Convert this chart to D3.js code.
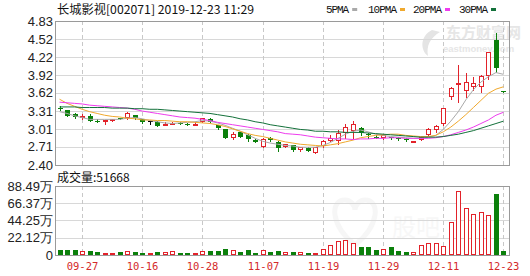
<!DOCTYPE html>
<html>
<head>
<meta charset="utf-8">
<script src="https://cdn.jsdelivr.net/npm/d3@7"></script>
<style>
  body { margin: 0; background: #fff; }
</style>
</head>
<body>
<div id="chart"></div>
<script>
// daily K-line data (price in yuan, volume in 万)
const dates = ["09-24","09-25","09-26","09-27","09-30","10-08","10-09","10-10","10-11","10-14",
  "10-15","10-16","10-17","10-18","10-21","10-22","10-23","10-24","10-25","10-28",
  "10-29","10-30","10-31","11-01","11-04","11-05","11-06","11-07","11-08","11-11",
  "11-12","11-13","11-14","11-15","11-18","11-19","11-20","11-21","11-22","11-25",
  "11-26","11-27","11-28","11-29","12-02","12-03","12-04","12-05","12-06","12-09",
  "12-10","12-11","12-12","12-13","12-16","12-17","12-18","12-19","12-20","12-23"];

const open = [3.36,3.32,3.26,3.22,3.23,3.15,3.12,3.16,3.19,3.19,
  3.24,3.17,3.14,3.13,3.09,3.10,3.11,3.10,3.09,3.13,
  3.18,3.07,3.00,2.86,2.95,2.91,2.83,2.71,2.86,2.79,
  2.71,2.73,2.65,2.69,2.61,2.72,2.81,2.81,2.94,2.97,
  3.02,2.92,2.88,2.85,2.87,2.85,2.84,2.79,2.83,2.90,
  2.99,3.09,3.55,3.77,3.65,3.71,3.71,3.91,4.51,3.65];
const high = [3.39,3.33,3.27,3.26,3.26,3.17,3.16,3.18,3.20,3.29,
  3.25,3.18,3.14,3.14,3.12,3.13,3.12,3.11,3.12,3.20,
  3.19,3.08,3.01,2.95,2.96,2.92,2.84,2.85,2.87,2.80,
  2.76,2.74,2.71,2.70,2.71,2.83,2.91,2.99,3.10,3.15,
  3.04,2.94,2.90,2.92,2.88,2.87,2.85,2.81,2.88,3.02,
  3.08,3.37,3.72,4.09,3.96,3.88,3.92,4.31,4.62,3.65];
const low = [3.33,3.22,3.20,3.18,3.14,3.12,3.10,3.15,3.17,3.18,
  3.18,3.11,3.09,3.05,3.07,3.09,3.09,3.07,3.07,3.12,
  3.12,3.01,2.85,2.84,2.87,2.81,2.78,2.70,2.81,2.64,
  2.70,2.64,2.64,2.63,2.60,2.71,2.80,2.76,2.85,2.85,
  2.90,2.86,2.85,2.84,2.84,2.82,2.80,2.78,2.82,2.89,
  2.96,3.08,3.51,3.47,3.55,3.67,3.63,3.85,3.97,3.64];
const close = [3.35,3.23,3.21,3.23,3.15,3.14,3.16,3.17,3.18,3.27,
  3.19,3.12,3.14,3.06,3.10,3.11,3.10,3.08,3.10,3.19,
  3.13,3.02,2.85,2.93,2.88,2.84,2.78,2.84,2.82,2.68,
  2.75,2.65,2.70,2.64,2.70,2.81,2.85,2.94,3.04,3.10,
  2.94,2.91,2.87,2.91,2.86,2.84,2.83,2.80,2.87,3.01,
  3.06,3.37,3.70,3.78,3.80,3.78,3.91,4.30,4.04,3.64];
const volume = [6.4,6.4,6.4,5.1,5.1,3.8,2.6,2.6,3.8,5.1,
  3.8,2.6,2.6,3.8,3.8,5.1,2.6,2.6,2.6,5.1,
  5.1,5.1,7.7,6.4,3.8,6.4,2.6,6.4,3.8,5.1,
  3.8,3.8,3.8,2.6,2.6,7.3,12.4,18.0,19.2,15.0,
  10.7,10.7,6.4,7.3,9.8,5.1,4.3,3.8,12.8,15.0,
  15.0,11.5,42.7,82.1,59.8,52.6,54.7,51.3,78.2,5.17];

// moving averages as drawn
const ma5 = [3.30,3.27,3.23,3.20,3.17,3.17,3.17,3.17,3.17,3.19,
  3.20,3.18,3.15,3.13,3.11,3.10,3.11,3.12,3.13,3.15,
  3.14,3.11,3.07,3.02,2.97,2.91,2.85,2.80,2.77,2.75,
  2.73,2.72,2.70,2.70,2.70,2.73,2.78,2.85,2.92,2.97,
  2.99,2.96,2.92,2.90,2.88,2.87,2.86,2.85,2.85,2.87,
  2.90,3.00,3.14,3.30,3.50,3.67,3.80,3.89,3.96,3.93];
const ma10 = [3.51,3.44,3.39,3.34,3.30,3.27,3.24,3.22,3.21,3.19,
  3.18,3.16,3.16,3.15,3.15,3.14,3.13,3.13,3.12,3.11,
  3.10,3.08,3.05,3.01,2.97,2.93,2.90,2.88,2.85,2.82,
  2.79,2.77,2.75,2.74,2.73,2.72,2.74,2.76,2.79,2.82,
  2.86,2.88,2.90,2.91,2.92,2.92,2.90,2.89,2.88,2.88,
  2.90,2.96,3.04,3.14,3.25,3.37,3.49,3.61,3.68,3.72];
const ma20 = [3.46,3.45,3.44,3.43,3.41,3.40,3.39,3.38,3.37,3.36,
  3.34,3.31,3.29,3.27,3.25,3.23,3.21,3.20,3.19,3.17,
  3.15,3.12,3.10,3.08,3.06,3.04,3.02,3.00,2.98,2.96,
  2.93,2.92,2.91,2.89,2.87,2.86,2.85,2.84,2.84,2.83,
  2.84,2.84,2.85,2.85,2.86,2.86,2.85,2.85,2.85,2.85,
  2.86,2.88,2.91,2.95,2.99,3.04,3.10,3.16,3.24,3.29];
const ma30 = [3.38,3.38,3.38,3.37,3.37,3.37,3.37,3.36,3.36,3.36,
  3.35,3.35,3.34,3.34,3.33,3.32,3.31,3.30,3.29,3.28,
  3.27,3.25,3.23,3.21,3.18,3.16,3.13,3.11,3.08,3.06,
  3.04,3.02,3.00,2.99,2.97,2.97,2.96,2.96,2.95,2.95,
  2.95,2.94,2.93,2.92,2.91,2.90,2.89,2.88,2.87,2.87,
  2.87,2.88,2.90,2.92,2.95,2.98,3.02,3.06,3.10,3.14];

const priceTicks = [2.40, 2.71, 3.01, 3.31, 3.62, 3.92, 4.22, 4.52, 4.83];
const volTicks = [0, 22.12, 44.25, 66.37, 88.49];
const dateTicks = ["09-27","10-16","10-28","11-07","11-19","11-29","12-11","12-23"];
const maNames = ["5PMA", "10PMA", "20PMA", "30PMA"];
const maColors = ["#a9a9a9", "#f0a92e", "#ee3cee", "#13713a"];

const RED = "#e2222a", GREEN = "#0b800b";
const width = 530, height = 276;
const left = 55, right = 509;
const pTop = 21, pBottom = 165;
const vTop = 186, vBottom = 255;

const svg = d3.select("#chart")
  .append("svg")
    .attr("width", width)
    .attr("height", height)
    .style("display", "block");

const x = d3.scaleBand()
    .domain(dates)
    .range([57, 506])
    .paddingInner(0.33);
const cx = d => Math.round(x(d) + x.bandwidth() / 2) + 0.5;

const y = d3.scaleLinear().domain([2.40, 4.83]).range([pBottom, pTop]);
const yv = d3.scaleLinear().domain([0, 88.49]).range([vBottom, vTop]);

// watermarks
const wm = svg.append("g").attr("fill", "#e6e6e6").attr("font-weight", "bold");
wm.append("text").attr("x", 446).attr("y", 38)
  .attr("font-family", "Noto Sans CJK SC").attr("font-size", 15).text("东方财富网");
wm.append("text").attr("x", 443).attr("y", 52)
  .attr("font-family", "Liberation Sans").attr("font-size", 9.5).text("eastmoney.com");
wm.append("path")
  .attr("d", "M432,30 C420,36 420,50 428,56 C426,46 430,38 440,32 Z")
  .attr("fill", "#e4e4e4");
svg.append("path")
  .attr("d", "M355,245 C330,225 330,200 345,200 C352,200 355,207 355,210 C355,207 358,200 365,200 C380,200 380,225 355,245 Z")
  .attr("fill", "none").attr("stroke", "#f6f6f6").attr("stroke-width", 5);
svg.append("text").attr("x", 392).attr("y", 236)
  .attr("font-family", "Noto Sans CJK SC").attr("font-size", 24)
  .attr("fill", "#f7f7f7").text("股吧");

// horizontal grid lines
svg.append("g")
  .selectAll("line")
  .data(priceTicks)
  .join("line")
    .attr("x1", left).attr("x2", right)
    .attr("y1", d => Math.round(y(d)) + 0.5)
    .attr("y2", d => Math.round(y(d)) + 0.5)
    .attr("stroke", "#d8d8d8");

svg.append("g")
  .selectAll("line")
  .data(volTicks)
  .join("line")
    .attr("x1", left).attr("x2", right)
    .attr("y1", d => Math.round(yv(d)) + 0.5)
    .attr("y2", d => Math.round(yv(d)) + 0.5)
    .attr("stroke", "#d8d8d8");

// vertical dashed grid lines at labelled dates
[[pTop, pBottom], [vTop, vBottom]].forEach(([t, b]) => {
  svg.append("g")
    .selectAll("line")
    .data(dateTicks)
    .join("line")
      .attr("x1", cx).attr("x2", cx)
      .attr("y1", t).attr("y2", b)
      .attr("stroke", "#c8c8c8")
      .attr("stroke-dasharray", "4,3");
});

// frames
[[pTop, pBottom], [vTop, vBottom]].forEach(([t, b]) => {
  svg.append("rect")
    .attr("x", left + 0.5).attr("y", t + 0.5)
    .attr("width", right - left).attr("height", b - t)
    .attr("fill", "none")
    .attr("stroke", "#9a9a9a");
});

const bars = dates.map((d, i) => ({date: d, o: open[i], h: high[i], l: low[i], c: close[i], v: volume[i]}));
const candleColor = d => d.c > d.o ? RED : d.c < d.o ? GREEN : "#000";

// candles
const cg = svg.append("g");
cg.selectAll("line")
  .data(bars)
  .join("line")
    .attr("x1", d => cx(d.date)).attr("x2", d => cx(d.date))
    .attr("y1", d => Math.round(y(d.h)))
    .attr("y2", d => Math.round(y(d.l)) + 1)
    .attr("stroke", candleColor);

cg.selectAll("rect")
  .data(bars)
  .join("rect")
    .each(function(d) {
      const top = Math.round(y(Math.max(d.o, d.c)));
      const bot = Math.max(top + 1, Math.round(y(Math.min(d.o, d.c))));
      const xl = cx(d.date) - 2.5;
      const r = d3.select(this);
      if (d.c > d.o) {
        r.attr("x", xl + 0.5).attr("y", top + 0.5)
         .attr("width", 4).attr("height", Math.max(bot - top - 1, 1))
         .attr("fill", "#fff").attr("stroke", RED);
      } else {
        r.attr("x", xl).attr("y", top)
         .attr("width", 5).attr("height", bot - top)
         .attr("fill", candleColor(d));
      }
    });

// moving average lines
[ma5, ma10, ma20, ma30].forEach((ma, k) => {
  const line = d3.line()
    .x((v, i) => x(dates[i]) + x.bandwidth() / 2)
    .y(v => y(v));
  svg.append("path")
    .datum(ma)
    .attr("d", line)
    .attr("fill", "none")
    .attr("stroke", maColors[k])
    .attr("stroke-width", 1);
});

// volume bars
svg.append("g")
  .selectAll("rect")
  .data(bars)
  .join("rect")
    .each(function(d) {
      const top = Math.round(yv(d.v));
      const xl = cx(d.date) - 2.5;
      const r = d3.select(this);
      if (d.c >= d.o) {
        r.attr("x", xl + 0.5).attr("y", top + 0.5)
         .attr("width", 4).attr("height", Math.max(vBottom - top - 1, 1))
         .attr("fill", "#fff").attr("stroke", RED);
      } else {
        r.attr("x", xl).attr("y", top)
         .attr("width", 5).attr("height", vBottom - top)
         .attr("fill", GREEN);
      }
    });

// axis labels
svg.append("g")
    .attr("font-family", "Liberation Sans, Arial, sans-serif")
    .attr("font-size", 13)
    .attr("fill", "#222")
  .selectAll("text")
  .data(priceTicks)
  .join("text")
    .attr("x", 53)
    .attr("y", d => y(d))
    .attr("dy", "0.36em")
    .attr("text-anchor", "end")
    .text(d => d3.format(".2f")(d));

svg.append("g")
    .attr("font-family", "Liberation Sans, Arial, sans-serif")
    .attr("font-size", 13)
    .attr("fill", "#222")
  .selectAll("text")
  .data(volTicks)
  .join("text")
    .attr("x", 53)
    .attr("y", d => yv(d))
    .attr("dy", "0.36em")
    .attr("text-anchor", "end")
    .text(d => d === 0 ? "0" : d3.format(".2f")(d) + "万");

svg.append("g")
    .attr("font-family", "DejaVu Sans Mono, monospace")
    .attr("font-size", 10.5)
    .attr("fill", "#d42a2a")
  .selectAll("text")
  .data(dateTicks)
  .join("text")
    .attr("x", cx)
    .attr("y", 270)
    .attr("text-anchor", "middle")
    .text(d => d);

// title and volume caption
svg.append("text")
  .attr("x", 57).attr("y", 14)
  .attr("font-family", "Noto Sans CJK SC")
  .attr("font-size", 12)
  .attr("fill", "#111")
  .attr("textLength", 197)
  .attr("lengthAdjust", "spacingAndGlyphs")
  .text("长城影视[002071] 2019-12-23 11:29");

svg.append("text")
  .attr("x", 57).attr("y", 182)
  .attr("font-family", "Noto Sans CJK SC")
  .attr("font-size", 12)
  .attr("fill", "#111")
  .text("成交量:51668");

// legend
const legX = [326, 368, 413, 459];
const lg = svg.append("g");
maNames.forEach((name, k) => {
  lg.append("text")
    .attr("x", legX[k]).attr("y", 13)
    .attr("font-family", "Liberation Mono, monospace")
    .attr("font-size", 11)
    .attr("fill", "#111")
    .attr("textLength", name.length * 5.8)
    .text(name);
  lg.append("rect")
    .attr("x", legX[k] + name.length * 5.8 + 3).attr("y", 8)
    .attr("width", 5).attr("height", 3)
    .attr("fill", maColors[k]);
});
</script>
</body>
</html>
